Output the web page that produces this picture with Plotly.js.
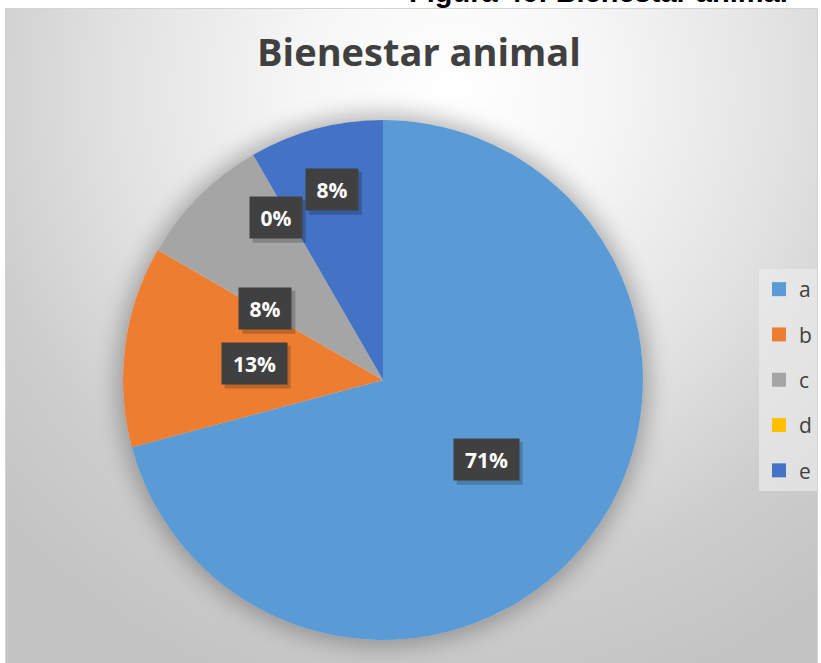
<!DOCTYPE html>
<html>
<head>
<meta charset="utf-8">
<script src="https://cdn.plot.ly/plotly-3.0.1.min.js"></script>
<style>
  html, body { margin: 0; padding: 0; background: #ffffff; }
  #wrap { position: relative; width: 821px; height: 663px; overflow: hidden; }
  #chartbg { position: absolute; left: 5px; top: 8px; width: 811px; height: 660px;
    border: 1px solid #d4d4d4;
    background: radial-gradient(ellipse 75% 95% at 55% 12%, #ffffff 0%, #f6f6f6 25%, #e2e2e2 55%, #cdcdcd 80%, #c4c4c4 100%); }
  #pieshadow { position: absolute; border-radius: 50%; box-shadow: 0 0 22px 6px rgba(0,0,0,0.28); }
  #plot { position: absolute; left: 0; top: 0; width: 821px; height: 663px; }
</style>
</head>
<body>
<div id="wrap">
  <div id="chartbg"></div>
  <div id="pieshadow"></div>
  <div id="plot"></div>
</div>
<script>
// ---- data ----
const labels = ['a', 'b', 'c', 'd', 'e'];
const values = [17, 3, 2, 0, 2];
const colors = ['#5B9BD5', '#ED7D31', '#A5A5A5', '#FFC000', '#4472C4'];
const chartTitle = 'Bienestar animal';
const caption = 'Figura 46: Bienestar animal';

// ---- label placement (Excel "best fit" look) ----
const labelRadius = [0.5, 0.5, 0.53, 0.75, 0.76];
const labelAngleShift = [0, 0, -13.6, -3.4, 0];

// ---- geometry ----
const W = 821, H = 663, CX = 383, CY = 380, R = 260;
const dom = { x: [(CX - R) / W, (CX + R) / W], y: [(H - CY - R) / H, (H - CY + R) / H] };

const sh = document.getElementById('pieshadow');
sh.style.left = (CX - R) + 'px'; sh.style.top = (CY - R) + 'px';
sh.style.width = (2 * R) + 'px'; sh.style.height = (2 * R) + 'px';

const total = values.reduce((s, v) => s + v, 0);
const annotations = [];
const shapes = [];
const PAD = 7, TH = 27;
let cum = 0;
values.forEach((v, i) => {
  const mid = ((cum + v / 2) / total) * 360 + labelAngleShift[i];
  cum += v;
  const a = mid * Math.PI / 180;
  const px = CX + R * labelRadius[i] * Math.sin(a);
  const py = CY - R * labelRadius[i] * Math.cos(a);
  const txt = Math.round(v / total * 100) + '%';
  const bw = 13 * txt.length + 12;
  const hw = bw / 2 + PAD, hh = TH / 2 + PAD;
  // soft drop shadow of the label box
  shapes.push({ type: 'rect', xref: 'paper', yref: 'paper', layer: 'above',
    x0: (px - hw + 3) / W, x1: (px + hw + 4) / W, y0: 1 - (py + hh + 5) / H, y1: 1 - (py - hh + 3) / H,
    fillcolor: 'rgba(0,0,0,0.2)', line: { width: 0 } });
  annotations.push({ xref: 'paper', yref: 'paper', x: px / W, y: 1 - py / H,
    text: txt, showarrow: false, font: { family: 'Open Sans', size: 21, color: '#ffffff', weight: 700 },
    bgcolor: '#404040', borderpad: PAD, width: bw, height: TH, xanchor: 'center', yanchor: 'middle' });
});

annotations.push({ xref: 'paper', yref: 'paper', x: 790 / W, y: 1, xanchor: 'right', yanchor: 'bottom',
  yshift: -10, showarrow: false, text: caption,
  font: { family: 'Liberation Sans', size: 29, color: '#000000', weight: 700 } });

const traces = [{
  type: 'pie', labels: labels, values: values, sort: false, direction: 'clockwise', rotation: 0,
  marker: { colors: colors, line: { width: 0 } }, textinfo: 'none', hoverinfo: 'label+value+percent',
  showlegend: false, domain: dom
}];
labels.forEach((l, i) => {
  traces.push({ type: 'scatter', mode: 'markers', x: [null], y: [null], name: l, legendgroup: l,
    marker: { symbol: 'square', size: 14, color: colors[i] }, showlegend: true, hoverinfo: 'skip' });
});

const layout = {
  width: W, height: H, margin: { l: 0, r: 0, t: 0, b: 0 },
  paper_bgcolor: 'rgba(0,0,0,0)', plot_bgcolor: 'rgba(0,0,0,0)',
  title: { text: chartTitle, x: 419 / W, xanchor: 'center', xref: 'paper', yref: 'container',
    y: 1 - 53 / H, yanchor: 'middle', font: { family: 'Open Sans', size: 38, color: '#404040', weight: 700 } },
  xaxis: { visible: false }, yaxis: { visible: false },
  showlegend: true,
  legend: { x: 759 / W, xanchor: 'left', y: 1 - 269 / H, yanchor: 'top', bgcolor: 'rgba(236,236,236,0.65)',
    font: { family: 'Open Sans', size: 21, color: '#404040' }, tracegroupgap: 15, itemwidth: 30,
    traceorder: 'grouped' },
  shapes: shapes,
  annotations: annotations
};
Plotly.newPlot('plot', traces, layout, { displayModeBar: false, staticPlot: true });
</script>
</body>
</html>
